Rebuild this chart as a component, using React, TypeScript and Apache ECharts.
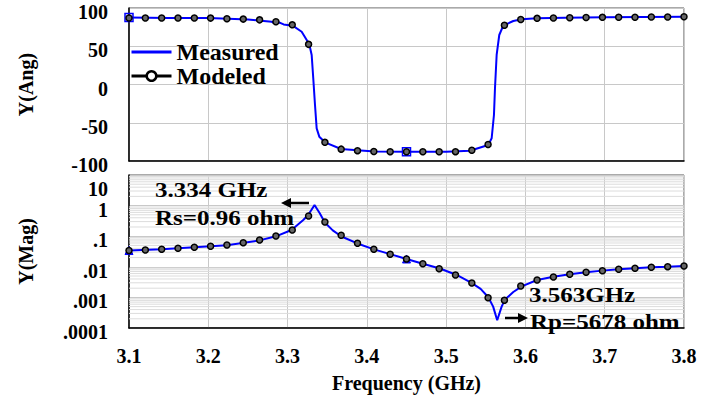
import React, { useEffect, useRef } from "react";
import * as echarts from "echarts";

// ---------- DATA ----------
const FREQ_MODEL = [
  3.1, 3.1206, 3.1412, 3.1618, 3.1824, 3.2029, 3.2235, 3.2441, 3.2647, 3.2853,
  3.3059, 3.3265, 3.3471, 3.3676, 3.3882, 3.4088, 3.4294, 3.45, 3.4706, 3.4912,
  3.5118, 3.5324, 3.5529, 3.5735, 3.5941, 3.6147, 3.6353, 3.6559, 3.6765, 3.6971,
  3.7176, 3.7382, 3.7588, 3.7794, 3.8,
];
const ANG_MODEL = [
  87, 87, 87, 87, 87, 86.8, 86, 85.5, 84.5, 82,
  78, 52.5, -75.6, -84.5, -86.5, -87.5, -87.8, -88, -88, -88,
  -87.8, -86, -78.5, 77.5, 85, 86.5, 87, 87.3, 87.5, 87.8,
  88, 88, 88.2, 88.3, 88.5,
];
const MAG_MODEL = [
  0.034, 0.0354, 0.0373, 0.0403, 0.0434, 0.0468, 0.0516, 0.0613, 0.0752, 0.1016,
  0.16, 0.457, 0.291, 0.107, 0.0586, 0.0373, 0.0256, 0.018, 0.0126, 0.00867,
  0.0054, 0.00296, 0.000977, 0.000804, 0.00236, 0.00371, 0.00465, 0.00569, 0.0066, 0.00746,
  0.00828, 0.00893, 0.00964, 0.0101, 0.0106,
];

const FREQ_MEAS_ANG = [
  3.1, 3.15, 3.2, 3.25, 3.27, 3.28, 3.285, 3.29, 3.295, 3.3065,
  3.3178, 3.3274, 3.3304, 3.3324, 3.3346, 3.3367, 3.34, 3.3472, 3.3674, 3.388,
  3.41, 3.45, 3.5, 3.53, 3.5531, 3.5574, 3.5603, 3.5616, 3.5637, 3.567,
  3.572, 3.5847, 3.5953, 3.6142, 3.65, 3.7, 3.75, 3.8,
];
const ANG_MEAS = [
  87.5, 87, 86.8, 85, 83, 82, 79.5, 81, 78.5, 76.9,
  69, 52.5, 38.6, 8.1, -26.8, -57.3, -68.2, -75.6, -84.3, -86,
  -87.5, -88, -87.8, -86.5, -79, -70.3, -39.9, -5, 38.6, 64.7,
  76.9, 83, 85.2, 86.5, 87.3, 88, 88.3, 88.5,
];

const FREQ_MEAS_MAG = [
  3.1, 3.1412, 3.1824, 3.2235, 3.2647, 3.2853, 3.305, 3.3198, 3.326, 3.334,
  3.3406, 3.347, 3.357, 3.368, 3.388, 3.409, 3.4294, 3.45, 3.4706, 3.4922,
  3.5133, 3.532, 3.5435, 3.5532, 3.5593, 3.5644, 3.57, 3.5742, 3.5847, 3.5953,
  3.6147, 3.6353, 3.6559, 3.6765, 3.6971, 3.7176, 3.7382, 3.7588, 3.7794, 3.8,
];
const MAG_MEAS = [
  0.034, 0.0375, 0.0432, 0.051, 0.073, 0.099, 0.16, 0.34, 0.49, 1.04,
  0.56, 0.28, 0.155, 0.098, 0.058, 0.037, 0.026, 0.018, 0.0126, 0.0088,
  0.0054, 0.003, 0.0019, 0.00101, 0.0005, 0.00018, 0.0005, 0.00085, 0.0015, 0.0023,
  0.0037, 0.0047, 0.0057, 0.0066, 0.0075, 0.0083, 0.009, 0.0096, 0.0101, 0.0107,
];

const MEAS_MARKER_FREQS = [3.1, 3.45];
const X_TICK_LABELS = ["3.1", "3.2", "3.3", "3.4", "3.5", "3.6", "3.7", "3.8"];
const ANG_TICK_LABELS = ["-100", "-50", "0", "50", "100"];
const MAG_TICK_LABELS = [".0001", ".001", ".01", ".1", "1", "10"];
const MAG_DECADES = [0.0001, 0.001, 0.01, 0.1, 1];
const MINOR_MULTS = [2, 3, 4, 5, 6, 7, 8, 9];

const ANNOTATIONS = [
  { text: "3.334 GHz", x: 155, y: 190 },
  { text: "Rs=0.96 ohm", x: 155, y: 218 },
  { text: "3.563GHz", x: 529, y: 295 },
  { text: "Rp=5678 ohm", x: 530, y: 322 },
];

// ---------- STYLE ----------
const FONT = "Liberation Serif";
const BLUE = "#0000ff";
const GRID_COLOR = "#c8c8c8";
const MINOR_COLOR = "#dcdcdc";
const HIDDEN_LINE = { width: 0, opacity: 0, color: "rgba(0,0,0,0)" };
const X_MIN = 3.1;
const X_MAX = 3.8;

function withMarkers(freqs: number[], vals: number[], symbol: string, hollow: boolean) {
  return freqs.map((f, i) => {
    if (MEAS_MARKER_FREQS.indexOf(f) >= 0) {
      return {
        value: [f, vals[i]],
        symbol,
        symbolSize: 8,
        itemStyle: hollow
          ? { color: "rgba(255,255,255,0)", borderColor: BLUE, borderWidth: 1.5 }
          : { color: BLUE, borderColor: BLUE },
      };
    }
    return { value: [f, vals[i]] };
  });
}

function zip(a: number[], b: number[]) {
  return a.map((x, i) => [x, b[i]]);
}

export default function App() {
  const ref = useRef<HTMLDivElement>(null);

  useEffect(() => {
    document.body.style.margin = "0";
    const chart = echarts.init(ref.current!, null, { renderer: "svg" });

    const tickText = { fontSize: 20, fontWeight: "bold", fontFamily: FONT, color: "#000" };
    const axisLine = { show: true, onZero: false, lineStyle: { color: "#000", width: 1.5 } };
    const labelRich = {
      n: { ...tickText, padding: [8, 0, 0, 0] },
      hi: { ...tickText, padding: [28, 0, 0, 0] },
    };

    const minorData: number[][] = [];
    MAG_DECADES.forEach((d) => MINOR_MULTS.forEach((m) => minorData.push([X_MIN, d * m])));

    const modeledItem = { color: "#666", borderColor: "#000", borderWidth: 1.5 };

    const option: any = {
      animation: false,
      backgroundColor: "#fff",
      textStyle: { fontFamily: FONT, fontWeight: "bold" },
      grid: [
        { left: 129, right: 35, top: 8, height: 153, show: true, borderColor: "#555", borderWidth: 1 },
        { left: 129, right: 35, top: 175, height: 153, show: true, borderColor: "#555", borderWidth: 1 },
      ],
      legend: {
        orient: "vertical",
        left: 125,
        top: 35,
        itemGap: 0,
        itemWidth: 40,
        itemHeight: 12,
        textStyle: { fontSize: 24, fontWeight: "bold", fontFamily: FONT, color: "#000" },
        data: [
          { name: "Measured", lineStyle: { color: BLUE, width: 3, opacity: 1 }, itemStyle: { opacity: 0 } },
          {
            name: "Modeled",
            lineStyle: { color: "#000", width: 3, opacity: 1 },
            itemStyle: { color: "#fff", borderColor: "#000", borderWidth: 2.5 },
          },
        ],
      },
      xAxis: [
        {
          gridIndex: 0, type: "value", min: X_MIN, max: X_MAX, interval: 0.1,
          axisLabel: { show: false }, axisTick: { show: false }, axisLine,
          splitLine: { show: true, lineStyle: { color: GRID_COLOR, width: 1 } },
        },
        {
          gridIndex: 1, type: "value", min: X_MIN, max: X_MAX, interval: 0.1,
          axisTick: { show: false }, axisLine,
          splitLine: { show: true, lineStyle: { color: GRID_COLOR, width: 1 } },
          axisLabel: {
            ...tickText, margin: 18,
            formatter: (v: number) => X_TICK_LABELS[Math.round((v - 3.1) * 10)] ?? "",
          },
          name: "Frequency (GHz)", nameLocation: "middle", nameGap: 45,
          nameTextStyle: { ...tickText },
        },
      ],
      yAxis: [
        {
          gridIndex: 0, type: "value", min: -100, max: 100, interval: 50,
          axisTick: { show: false }, axisLine,
          splitLine: { show: true, lineStyle: { color: GRID_COLOR, width: 1 } },
          axisLabel: {
            ...tickText, margin: 21, rich: labelRich,
            formatter: (v: number) => "{n|" + (ANG_TICK_LABELS[Math.round((v + 100) / 50)] ?? "") + "}",
          },
          name: "Y(Ang)", nameLocation: "middle", nameGap: 93,
          nameTextStyle: { ...tickText },
        },
        {
          gridIndex: 1, type: "log", logBase: 10, min: 0.0001, max: 10,
          axisTick: { show: false }, axisLine,
          splitLine: { show: true, lineStyle: { color: GRID_COLOR, width: 1 } },
          axisLabel: {
            ...tickText, margin: 21, rich: labelRich,
            formatter: (v: number) => {
              const k = Math.round(Math.log10(v)) + 4;
              const s = MAG_TICK_LABELS[k] ?? "";
              return k === 5 ? "{hi|" + s + "}" : "{n|" + s + "}";
            },
          },
          name: "Y(Mag)", nameLocation: "middle", nameGap: 93,
          nameTextStyle: { ...tickText },
        },
      ],
      series: [
        {
          name: "minor-grid", type: "custom", xAxisIndex: 1, yAxisIndex: 1, z: 1, silent: true,
          encode: { x: 0, y: 1 },
          data: minorData,
          renderItem: (_p: any, api: any) => {
            const v = api.value(1);
            const a = api.coord([X_MIN, v]);
            const b = api.coord([X_MAX, v]);
            return {
              type: "line",
              shape: { x1: a[0], y1: a[1], x2: b[0], y2: b[1] },
              style: { stroke: MINOR_COLOR, lineWidth: 1 },
            };
          },
        },
        {
          name: "Measured", type: "line", xAxisIndex: 0, yAxisIndex: 0, z: 2,
          symbol: "none", showSymbol: true,
          lineStyle: { color: BLUE, width: 2 }, itemStyle: { color: BLUE },
          data: withMarkers(FREQ_MEAS_ANG, ANG_MEAS, "rect", true),
        },
        {
          name: "Modeled", type: "line", xAxisIndex: 0, yAxisIndex: 0, z: 3,
          symbol: "circle", symbolSize: 6, showSymbol: true,
          lineStyle: HIDDEN_LINE,
          itemStyle: modeledItem,
          data: zip(FREQ_MODEL, ANG_MODEL),
        },
        {
          name: "Measured", type: "line", xAxisIndex: 1, yAxisIndex: 1, z: 2,
          symbol: "none", showSymbol: true,
          lineStyle: { color: BLUE, width: 2 }, itemStyle: { color: BLUE },
          data: withMarkers(FREQ_MEAS_MAG, MAG_MEAS, "triangle", false),
        },
        {
          name: "Modeled", type: "line", xAxisIndex: 1, yAxisIndex: 1, z: 3,
          symbol: "circle", symbolSize: 6, showSymbol: true,
          lineStyle: HIDDEN_LINE,
          itemStyle: modeledItem,
          data: zip(FREQ_MODEL, MAG_MODEL),
        },
      ],
      graphic: [
        ...ANNOTATIONS.map((a) => ({
          type: "text", x: a.x, y: a.y, scaleX: 1.19, z: 100,
          style: {
            text: a.text, fontSize: 21, fontWeight: "bold", fontFamily: FONT,
            fill: "#000", verticalAlign: "middle", align: "left",
          },
        })),
        { type: "line", z: 100, shape: { x1: 309, y1: 203, x2: 288, y2: 203 }, style: { stroke: "#000", lineWidth: 2.5 } },
        { type: "polygon", z: 100, shape: { points: [[281, 203], [291, 198], [291, 208]] }, style: { fill: "#000" } },
        { type: "line", z: 100, shape: { x1: 505, y1: 318, x2: 521, y2: 318 }, style: { stroke: "#000", lineWidth: 2.5 } },
        { type: "polygon", z: 100, shape: { points: [[528, 318], [518, 313], [518, 323]] }, style: { fill: "#000" } },
      ],
    };

    chart.setOption(option);
    return () => chart.dispose();
  }, []);

  return (
    <div
      ref={ref}
      style={{ position: "fixed", left: 0, top: 0, width: 719, height: 400, background: "#fff" }}
    />
  );
}
